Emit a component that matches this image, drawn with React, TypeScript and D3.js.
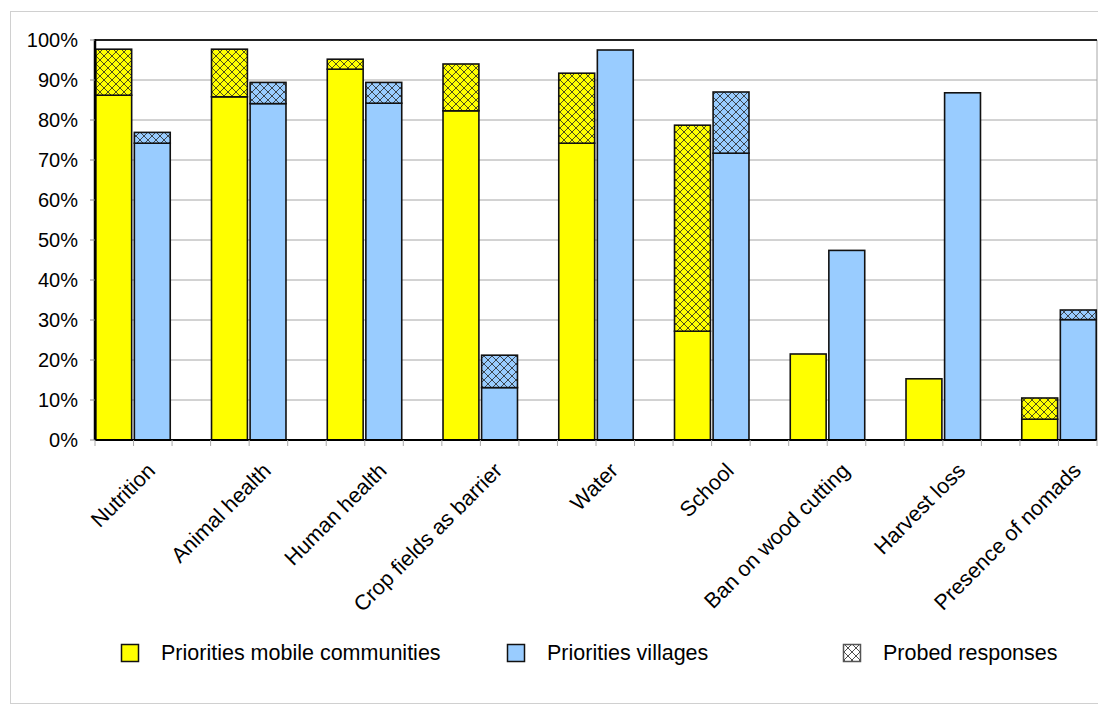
import React from "react";
import * as d3 from "d3";

const categories = [
  "Nutrition",
  "Animal health",
  "Human health",
  "Crop fields as barrier",
  "Water",
  "School",
  "Ban on wood cutting",
  "Harvest loss",
  "Presence of nomads",
];
const mobileBase = [86.2, 85.8, 92.7, 82.3, 74.2, 27.2, 21.5, 15.3, 5.2];
const mobileProbed = [11.5, 11.9, 2.5, 11.7, 17.5, 51.5, 0, 0, 5.3];
const villageBase = [74.2, 84.1, 84.2, 13.1, 97.5, 71.7, 47.4, 86.8, 30.1];
const villageProbed = [2.7, 5.3, 5.2, 8.1, 0, 15.3, 0, 0, 2.4];
const yTicks = [0, 10, 20, 30, 40, 50, 60, 70, 80, 90, 100];
const legendItems = ["Priorities mobile communities", "Priorities villages", "Probed responses"];

const YELLOW = "#ffff00";
const BLUE = "#99ccff";
const FONT = "'Liberation Sans', Arial, Helvetica, sans-serif";

export default function App() {
  const W = 1098;
  const H = 706;
  const left = 95;
  const right = 1097;
  const top = 40;
  const bottom = 440;

  // 9 groups of (mobile, village) separated by 8 empty slots => 26 slots
  const slots = d3.range(categories.length * 3 - 1);
  const x = d3.scaleBand<number>().domain(slots).range([left, right]).paddingInner(0.07).paddingOuter(0.02);
  const step = x.step();
  const y = d3.scaleLinear().domain([0, 100]).range([bottom, top]);

  type Seg = { key: string; slot: number; y0: number; y1: number; color: string; hatch: boolean };
  const segs: Seg[] = [];
  categories.forEach((_, i) => {
    const s1 = i * 3;
    const s2 = i * 3 + 1;
    segs.push({ key: `mb${i}`, slot: s1, y0: 0, y1: mobileBase[i], color: YELLOW, hatch: false });
    if (mobileProbed[i] > 0)
      segs.push({ key: `mp${i}`, slot: s1, y0: mobileBase[i], y1: mobileBase[i] + mobileProbed[i], color: YELLOW, hatch: true });
    segs.push({ key: `vb${i}`, slot: s2, y0: 0, y1: villageBase[i], color: BLUE, hatch: false });
    if (villageProbed[i] > 0)
      segs.push({ key: `vp${i}`, slot: s2, y0: villageBase[i], y1: villageBase[i] + villageProbed[i], color: BLUE, hatch: true });
  });

  const tickSlots = d3.range(slots.length + 1);
  const slotEdge = (k: number) => left + k * ((right - left) / slots.length);

  const legendX = [121, 507, 843];

  return (
    <svg width={W} height={H} style={{ position: "absolute", left: 0, top: 0, fontFamily: FONT }}>
      <defs>
        <pattern id="hatch" patternUnits="userSpaceOnUse" width="8" height="8">
          <path d="M0,0 L8,8 M8,0 L0,8" stroke="#222" strokeWidth="1" opacity="0.8" />
        </pattern>
      </defs>
      <rect x={10.5} y={11.5} width={1100} height={692} fill="white" stroke="#d0d0d0" strokeWidth={1} />

      {/* gridlines */}
      {yTicks.map((t) => (
        <line key={`g${t}`} x1={left} x2={right} y1={y(t)} y2={y(t)} stroke="#a6a6a6" strokeWidth={1} />
      ))}
      <line x1={right} x2={right} y1={top} y2={bottom} stroke="#a6a6a6" strokeWidth={1} />
      <line x1={left} x2={right} y1={top} y2={top} stroke="#222" strokeWidth={2} />

      {/* bars */}
      {segs.map((s) => (
        <g key={s.key}>
          <rect x={x(s.slot)} y={y(s.y1)} width={x.bandwidth()} height={y(s.y0) - y(s.y1)} fill={s.color} />
          {s.hatch && (
            <rect x={x(s.slot)} y={y(s.y1)} width={x.bandwidth()} height={y(s.y0) - y(s.y1)} fill="url(#hatch)" />
          )}
          <rect
            x={x(s.slot)}
            y={y(s.y1)}
            width={x.bandwidth()}
            height={y(s.y0) - y(s.y1)}
            fill="none"
            stroke="#111"
            strokeWidth={1.6}
          />
        </g>
      ))}

      {/* axes */}
      <line x1={left} x2={left} y1={top - 1} y2={bottom} stroke="#000" strokeWidth={2.5} />
      <line x1={left} x2={right} y1={bottom} y2={bottom} stroke="#000" strokeWidth={2} />
      {yTicks.map((t) => (
        <g key={`yt${t}`}>
          <line x1={left - 5} x2={left} y1={y(t)} y2={y(t)} stroke="#888" strokeWidth={1} />
          <text x={78} y={y(t)} textAnchor="end" dominantBaseline="central" fontSize={20} fill="#000">
            {`${t}%`}
          </text>
        </g>
      ))}
      {tickSlots.map((k) => (
        <line key={`xt${k}`} x1={slotEdge(k)} x2={slotEdge(k)} y1={bottom} y2={bottom + 6} stroke="#aaa" strokeWidth={1} />
      ))}

      {/* category labels */}
      {categories.map((c, i) => {
        const cx = (x(i * 3) ?? 0) + step;
        return (
          <text
            key={c}
            transform={`translate(${cx + 22},${bottom + 32}) rotate(-45)`}
            textAnchor="end"
            fontSize={21.5}
            fill="#000"
          >
            {c}
          </text>
        );
      })}

      {/* legend */}
      {legendItems.map((l, i) => (
        <g key={l}>
          <rect x={legendX[i] + 0.5} y={644.5} width={17} height={17} fill={i === 0 ? YELLOW : i === 1 ? BLUE : "white"} />
          {i === 2 && <rect x={legendX[i] + 0.5} y={644.5} width={17} height={17} fill="url(#hatch)" />}
          <rect
            x={legendX[i] + 0.5}
            y={644.5}
            width={17}
            height={17}
            fill="none"
            stroke={i === 2 ? "#555" : "#111"}
            strokeWidth={1.5}
          />
          <text x={legendX[i] + 40} y={660} fontSize={21.5} fill="#000">
            {l}
          </text>
        </g>
      ))}
    </svg>
  );
}
